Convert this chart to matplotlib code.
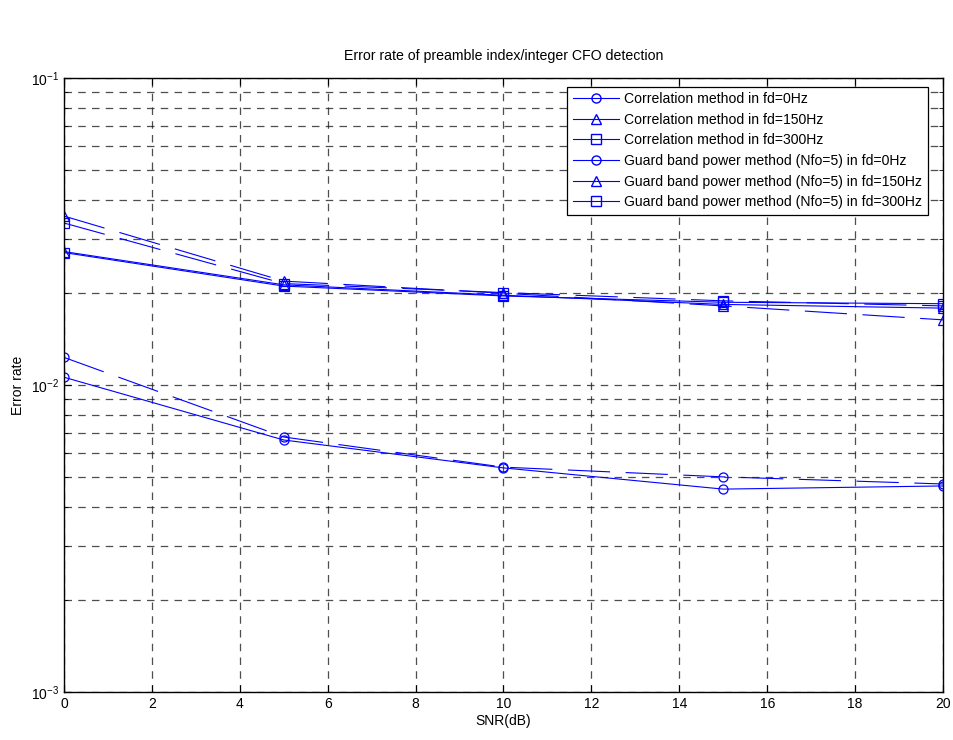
import matplotlib
matplotlib.use("Agg")
import matplotlib.pyplot as plt
from matplotlib.lines import Line2D
from matplotlib.ticker import LogLocator, NullFormatter, FixedLocator

plt.rcParams['font.family'] = ['Liberation Sans', 'DejaVu Sans']

snr = [0, 5, 10, 15, 20]
corr_fd0 = [0.0106, 0.00662, 0.00537, 0.00458, 0.00469]
corr_fd150 = [0.0272, 0.0212, 0.0196, 0.0183, 0.0178]
corr_fd300 = [0.0270, 0.0210, 0.0195, 0.0186, 0.0184]
guard_fd0 = [0.0123, 0.00677, 0.00540, 0.00502, 0.00476]
guard_fd150 = [0.0355, 0.0218, 0.0199, 0.0181, 0.0163]
guard_fd300 = [0.0337, 0.0214, 0.0200, 0.0188, 0.0181]

labels = ['Correlation method in fd=0Hz',
          'Correlation method in fd=150Hz',
          'Correlation method in fd=300Hz',
          'Guard band power method (Nfo=5) in fd=0Hz',
          'Guard band power method (Nfo=5) in fd=150Hz',
          'Guard band power method (Nfo=5) in fd=300Hz']
series = [corr_fd0, corr_fd150, corr_fd300, guard_fd0, guard_fd150, guard_fd300]
markers = ['o', '^', 's', 'o', '^', 's']
styles = ['-', '-', '-', (0, (38, 14)), (0, (38, 14)), (0, (38, 14))]

blue = '#0000ff'
fig = plt.figure(figsize=(9.54, 7.40), dpi=100)
ax = fig.add_axes([64/954, 48/740, 879/954, 614/740])

for y, m, ls in zip(series, markers, styles):
    ax.plot(snr, y, color=blue, linestyle=ls, linewidth=0.8, marker=m,
            markersize=6.5, markerfacecolor='none', markeredgecolor=blue,
            markeredgewidth=0.9)

ax.set_yscale('log')
ax.set_xlim(0, 20)
ax.set_ylim(1e-3, 1e-1)
ax.xaxis.set_major_locator(FixedLocator(range(0, 21, 2)))
ax.yaxis.set_major_locator(LogLocator(base=10, numticks=10))
ax.yaxis.set_minor_locator(LogLocator(base=10, subs=range(2, 10), numticks=20))
ax.yaxis.set_minor_formatter(NullFormatter())

grid_kw = dict(color='#222222', linestyle=(0, (6, 5)), linewidth=0.9, alpha=0.8)
ax.grid(True, which='major', axis='both', **grid_kw)
ax.grid(True, which='minor', axis='y', **grid_kw)

ax.tick_params(which='both', direction='in', top=True, right=True, labelsize=10)
ax.tick_params(which='major', length=5)
ax.tick_params(which='minor', length=3)
for s in ax.spines.values():
    s.set_linewidth(1.0)

ax.set_xlabel('SNR(dB)', fontsize=10, labelpad=2)
ax.set_ylabel('Error rate', fontsize=10)
ax.set_title('Error rate of preamble index/integer CFO detection', fontsize=10.2, pad=13)

handles = [Line2D([], [], color=blue, linestyle='-', linewidth=0.8, marker=m,
                  markersize=6.5, markerfacecolor='none', markeredgecolor=blue)
           for m in markers]
leg = ax.legend(handles, labels, loc='upper right', fontsize=10.1,
                bbox_to_anchor=(0.983, 0.986), frameon=True, fancybox=False,
                edgecolor='black', framealpha=1, borderpad=0.4,
                labelspacing=0.47, handlelength=3.3, handletextpad=0.4,
                borderaxespad=0.0)
leg.get_frame().set_linewidth(0.9)

fig.savefig('out.png', dpi=100)
